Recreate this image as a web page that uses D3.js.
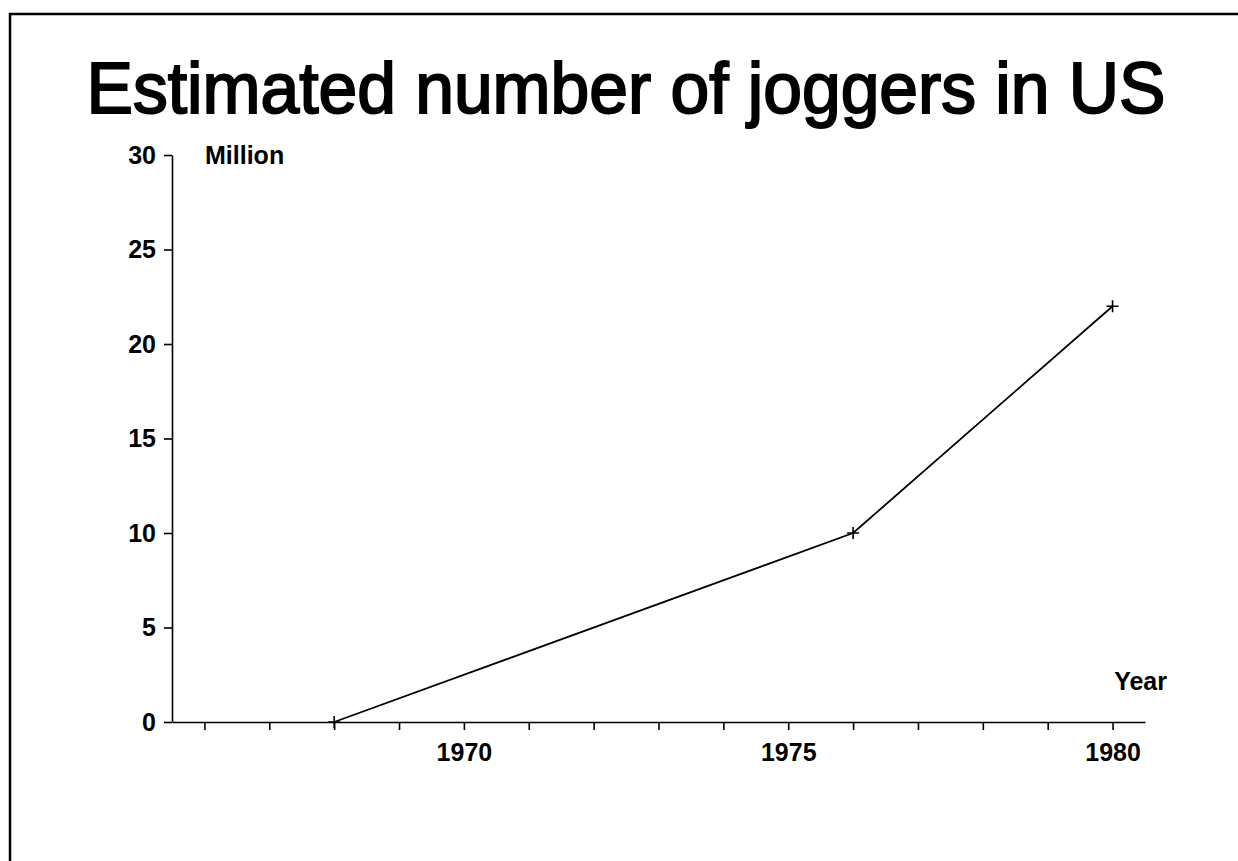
<!DOCTYPE html>
<html lang="en">
<head>
<meta charset="utf-8">
<title>Estimated number of joggers in US</title>
<script src="https://cdn.jsdelivr.net/npm/d3@7/dist/d3.min.js"></script>
<style>
  body{margin:0;background:#fff;}
  text{font-family:"Liberation Sans",Arial,Helvetica,sans-serif;fill:#000;}
  .tick text{font-size:25px;font-weight:bold;}
  .domain,.tick line{stroke:#000;stroke-width:1.6;}
</style>
</head>
<body>
<div id="chart"></div>
<script>
// data
var years = [1968, 1976, 1980]
var joggers = [0, 10, 22]   // million
var yTicks = [0, 5, 10, 15, 20, 25, 30]
var xTicks = d3.range(1966, 1981)
var xLabelYears = [1970, 1975, 1980]

var W = 1238, H = 861
var svg = d3.select("#chart").append("svg").attr("width", W).attr("height", H)

// frame (only top and left edges show)
svg.append("path")
  .attr("d", "M10," + H + "V14H" + W)
  .attr("fill", "none").attr("stroke", "#000").attr("stroke-width", 2.5)

svg.append("text")
  .attr("x", 626).attr("y", 113)
  .attr("text-anchor", "middle")
  .attr("font-size", 72)
  .attr("textLength", 1079).attr("lengthAdjust", "spacingAndGlyphs")
  .style("stroke", "#000").style("stroke-width", 2)
  .text("Estimated number of joggers in US")

var x = d3.scaleLinear().domain([1965.5, 1980.5]).range([172, 1145])
var y = d3.scaleLinear().domain([0, 30]).range([722, 155])

var xAxis = svg.append("g")
  .attr("transform", "translate(0," + y(0) + ")")
  .call(d3.axisBottom(x)
    .tickValues(xTicks)
    .tickSize(8)
    .tickSizeOuter(0)
    .tickPadding(13)
    .tickFormat(function(d){ return xLabelYears.indexOf(d) >= 0 ? d : "" }))
xAxis.selectAll(".tick text").attr("dy", "0.71em")

var yAxis = svg.append("g")
  .attr("transform", "translate(" + x(1965.5) + ",0)")
  .call(d3.axisLeft(y)
    .tickValues(yTicks)
    .tickSize(8)
    .tickSizeOuter(0)
    .tickPadding(8))

svg.append("text")
  .attr("x", 205).attr("y", 164)
  .attr("font-size", 25).attr("font-weight", "bold")
  .text("Million")

svg.append("text")
  .attr("x", 1167).attr("y", 690)
  .attr("text-anchor", "end")
  .attr("font-size", 25).attr("font-weight", "bold")
  .text("Year")

var pts = years.map(function(d, i){ return [d, joggers[i]] })

svg.append("path")
  .datum(pts)
  .attr("fill", "none")
  .attr("stroke", "#000")
  .attr("stroke-width", 1.8)
  .attr("d", d3.line()
    .x(function(d){ return x(d[0]) })
    .y(function(d){ return y(d[1]) }))

// plus markers
svg.selectAll(".mark")
  .data(pts)
  .enter()
  .append("path")
  .attr("class", "mark")
  .attr("fill", "none")
  .attr("stroke", "#000")
  .attr("stroke-width", 1.6)
  .attr("d", function(d){
    var cx = x(d[0]), cy = y(d[1])
    return "M" + (cx - 6) + "," + cy + "H" + (cx + 6) + "M" + cx + "," + (cy - 6) + "V" + (cy + 6)
  })
</script>
</body>
</html>
